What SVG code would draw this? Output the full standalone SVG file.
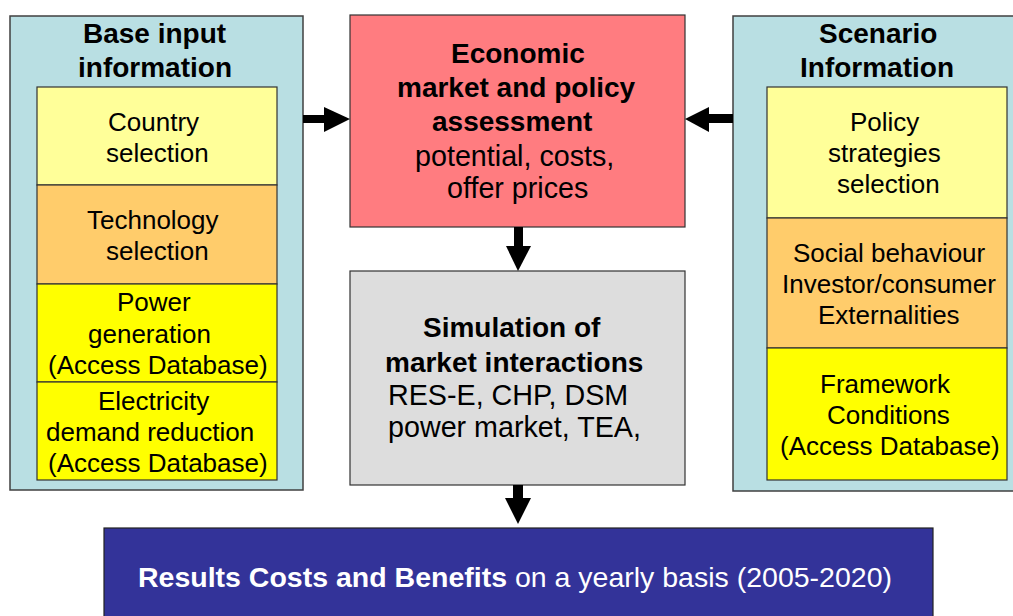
<svg xmlns="http://www.w3.org/2000/svg" width="1013" height="616" viewBox="0 0 1013 616">
<style>
.outer{fill:#B9DFE3;stroke:#404040;stroke-width:1.5}
.box{stroke:#333;stroke-width:1.2}
.lt{fill:#FFFF99}.or{fill:#FFCC6B}.ye{fill:#FFFF00}
text{font-family:"Liberation Sans",Arial,sans-serif;fill:#000}
.h{font-weight:bold;font-size:28px}
.s{font-size:26px}
.m{font-size:28.7px}
.arr{fill:#000}
</style>
<rect width="1013" height="616" fill="#fff"/>
<g id="base-input">
<rect class="outer" x="10" y="16" width="293" height="474"/>
<text class="h" x="83" y="43">Base input</text>
<text class="h" x="78" y="77">information</text>
</g>
<g id="country">
<rect class="box lt" x="37" y="87" width="240" height="98"/>
<text class="s" x="108" y="131">Country</text>
<text class="s" x="106" y="162">selection</text>
</g>
<g id="technology">
<rect class="box or" x="37" y="185" width="240" height="99"/>
<text class="s" x="87" y="229">Technology</text>
<text class="s" x="106" y="260">selection</text>
</g>
<g id="power">
<rect class="box ye" x="37" y="284" width="240" height="98"/>
<text class="s" x="117" y="311">Power</text>
<text class="s" x="88" y="343">generation</text>
<text class="s" x="48" y="374">(Access Database)</text>
</g>
<g id="electricity">
<rect class="box ye" x="37" y="382" width="240" height="98"/>
<text class="s" x="98" y="410">Electricity</text>
<text class="s" x="46" y="441">demand reduction</text>
<text class="s" x="48" y="472">(Access Database)</text>
</g>
<g id="scenario">
<rect class="outer" x="733" y="16" width="290" height="475"/>
<text class="h" x="819" y="43">Scenario</text>
<text class="h" x="800" y="77">Information</text>
</g>
<g id="policy">
<rect class="box lt" x="767" y="87" width="240" height="131"/>
<text class="s" x="850" y="131">Policy</text>
<text class="s" x="828" y="162">strategies</text>
<text class="s" x="837" y="193">selection</text>
</g>
<g id="social">
<rect class="box or" x="767" y="218" width="240" height="130"/>
<text class="s" x="793" y="262">Social behaviour</text>
<text class="s" x="782" y="293">Investor/consumer</text>
<text class="s" x="818" y="324">Externalities</text>
</g>
<g id="framework">
<rect class="box ye" x="767" y="348" width="240" height="132"/>
<text class="s" x="820" y="393">Framework</text>
<text class="s" x="827" y="424">Conditions</text>
<text class="s" x="780" y="455">(Access Database)</text>
</g>
<g id="economic">
<rect class="box" x="350" y="15" width="335" height="212" fill="#FF7C80"/>
<text class="h" x="451" y="63">Economic</text>
<text class="h" x="397" y="97">market and policy</text>
<text class="h" x="432" y="131">assessment</text>
<text class="m" x="415" y="166">potential, costs,</text>
<text class="m" x="447" y="198">offer prices</text>
</g>
<g id="simulation">
<rect class="box" x="350" y="271" width="335" height="214" fill="#DDDDDD"/>
<text class="h" x="423" y="337">Simulation of</text>
<text class="h" x="385" y="372">market interactions</text>
<text class="m" x="388" y="405">RES-E, CHP, DSM</text>
<text class="m" x="388" y="437">power market, TEA,</text>
</g>
<g id="results">
<rect x="104" y="528" width="829" height="100" fill="#333399" stroke="#222" stroke-width="1.2"/>
<text x="138" y="587" style="font-size:28.5px;fill:#fff"><tspan style="font-weight:bold;fill:#fff">Results Costs and Benefits</tspan> on a yearly basis (2005-2020)</text>
</g>
<g id="connectors" class="arr">
<rect x="303" y="115" width="22" height="8"/>
<polygon points="324,107 350,119 324,132"/>
<rect x="708" y="114" width="25" height="9"/>
<polygon points="709,107 685,119 709,132"/>
<rect x="514" y="227" width="9" height="20"/>
<polygon points="506,246 531,246 518,271"/>
<rect x="513" y="485" width="10" height="14"/>
<polygon points="505,498 531,498 518,524"/>
</g>
</svg>
